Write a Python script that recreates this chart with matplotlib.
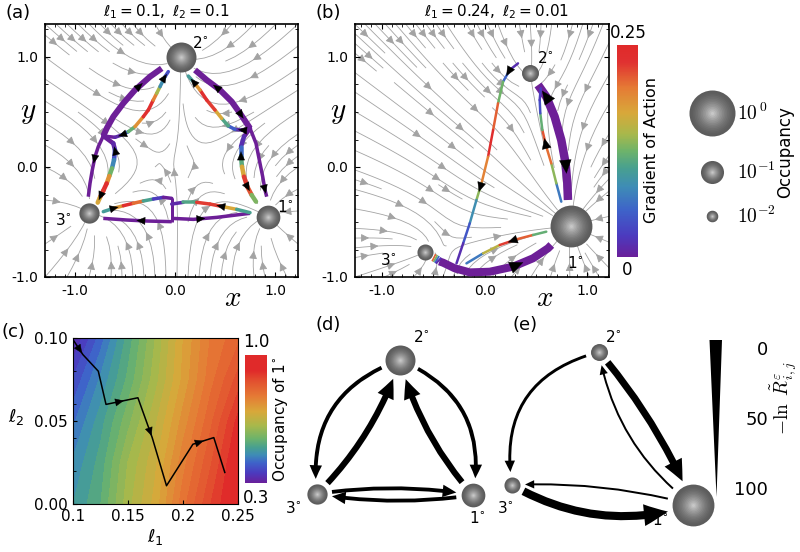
import numpy as np
import matplotlib
matplotlib.use("Agg")
import matplotlib.pyplot as plt
import matplotlib.colorbar as mcolorbar
from matplotlib.collections import LineCollection
from matplotlib.colors import LinearSegmentedColormap, Normalize
from matplotlib.patches import FancyArrowPatch, Polygon
from matplotlib.ticker import MultipleLocator

plt.rcParams["font.family"] = "DejaVu Sans"
plt.rcParams["mathtext.fontset"] = "dejavusans"
plt.rcParams["axes.unicode_minus"] = False

# ---------------- data ----------------
# node order: 1°, 2°, 3°
a_node_x = [0.93, 0.06, -0.86]
a_node_y = [-0.45, 1.0, -0.42]
a_occ = [0.11, 0.24, 0.065]
a_pull = [1.0, 1.0, 1.0]

b_node_x = [0.84, 0.44, -0.58]
b_node_y = [-0.54, 0.855, -0.77]
b_occ = [0.73, 0.036, 0.03]
b_pull = [1.0, 0.15, 0.2]

# (a) paths  (x, y, gradient of action)
a_lt_x = [-0.133, -0.25, -0.40, -0.517, -0.617, -0.683, -0.717]
a_lt_y = [0.897, 0.821, 0.70, 0.579, 0.458, 0.351, 0.282]
a_lo_x = [-0.717, -0.767, -0.80, -0.827, -0.85, -0.867]
a_lo_y = [0.282, 0.185, 0.094, -0.027, -0.149, -0.27]
a_lu_x = [-0.717, -0.60, -0.533, -0.467, -0.40, -0.317, -0.267, -0.217, -0.183, -0.15, -0.10, -0.067]
a_lu_y = [0.282, 0.27, 0.291, 0.321, 0.367, 0.457, 0.518, 0.609, 0.67, 0.73, 0.821, 0.867]
a_lu_g = [0, 0, 0.02, 0.09, 0.15, 0.22, 0.25, 0.22, 0.17, 0.12, 0.05, 0.03]
a_ld_x = [-0.717, -0.617, -0.60, -0.61, -0.63, -0.657, -0.683, -0.717, -0.75, -0.773]
a_ld_y = [0.282, 0.215, 0.155, 0.064, -0.012, -0.082, -0.149, -0.215, -0.276, -0.324]
a_ld_g = [0, 0, 0.02, 0.06, 0.10, 0.15, 0.22, 0.25, 0.20, 0.14]
a_rt_x = [0.20, 0.317, 0.45, 0.567, 0.65, 0.717, 0.75]
a_rt_y = [0.882, 0.791, 0.70, 0.594, 0.488, 0.397, 0.352]
a_ro_x = [0.75, 0.81, 0.843, 0.877, 0.90, 0.917]
a_ro_y = [0.352, 0.215, 0.064, -0.088, -0.209, -0.27]
a_ru_x = [0.75, 0.667, 0.60, 0.533, 0.467, 0.40, 0.317, 0.25, 0.183, 0.133]
a_ru_y = [0.352, 0.336, 0.342, 0.373, 0.442, 0.518, 0.609, 0.70, 0.776, 0.827]
a_ru_g = [0, 0, 0.02, 0.08, 0.14, 0.20, 0.25, 0.22, 0.14, 0.06]
a_rd_x = [0.75, 0.69, 0.66, 0.66, 0.67, 0.69, 0.723, 0.767, 0.81]
a_rd_y = [0.352, 0.276, 0.185, 0.094, 0.003, -0.088, -0.179, -0.255, -0.315]
a_rd_g = [0, 0, 0.03, 0.09, 0.14, 0.20, 0.25, 0.18, 0.08]
a_bl_x = [-0.717, -0.483, -0.283, -0.033]
a_bl_y = [-0.467, -0.482, -0.491, -0.497]
a_bv_x = [-0.033, -0.033]
a_bv_y = [-0.497, -0.285]
a_br_x = [-0.033, 0.183, 0.417, 0.75]
a_br_y = [-0.467, -0.476, -0.458, -0.421]
a_bul_x = [-0.717, -0.617, -0.517, -0.417, -0.317, -0.217, -0.117, -0.033]
a_bul_y = [-0.406, -0.376, -0.352, -0.33, -0.309, -0.291, -0.276, -0.285]
a_bul_g = [0.06, 0.14, 0.22, 0.25, 0.16, 0.05, 0.0, 0.0]
a_bur_x = [-0.033, 0.083, 0.217, 0.35, 0.483, 0.617, 0.75]
a_bur_y = [-0.337, -0.321, -0.321, -0.337, -0.361, -0.385, -0.415]
a_bur_g = [0, 0.02, 0.20, 0.25, 0.20, 0.14, 0.07]

# (b) paths
b_bt_x = [-0.44, -0.403, -0.29, -0.144, 0.05, 0.277, 0.471, 0.617, 0.649]
b_bt_y = [-0.858, -0.87, -0.921, -0.958, -0.952, -0.906, -0.83, -0.739, -0.709]
b_tip_x = [-0.50, -0.485, -0.47, -0.455, -0.44]
b_tip_y = [-0.821, -0.828, -0.836, -0.845, -0.858]
b_tip_g = [0.25, 0.17, 0.09, 0.03, 0]
b_rt_x = [0.811, 0.805, 0.788, 0.746, 0.681, 0.60, 0.52]
b_rt_y = [-0.30, -0.149, 0.033, 0.245, 0.458, 0.639, 0.746]
b_rr_x = [0.746, 0.698, 0.649, 0.60, 0.562, 0.542, 0.536, 0.546]
b_rr_y = [-0.315, -0.149, 0.033, 0.185, 0.336, 0.488, 0.609, 0.715]
b_rr_g = [0.04, 0.10, 0.17, 0.24, 0.19, 0.05, 0.03, 0.02]
b_lg_x = [0.325, 0.245, 0.18, 0.131, 0.083, 0.034, -0.03, -0.079, -0.144, -0.208, -0.273]
b_lg_y = [0.942, 0.882, 0.776, 0.579, 0.336, 0.094, -0.149, -0.30, -0.512, -0.694, -0.876]
b_lg_g = [0, 0.03, 0.08, 0.17, 0.25, 0.23, 0.16, 0.11, 0.06, 0.03, 0]
b_lw_x = [-0.176, -0.014, 0.148, 0.309, 0.471, 0.60]
b_lw_y = [-0.876, -0.785, -0.709, -0.658, -0.618, -0.588]
b_lw_g = [0.03, 0.11, 0.20, 0.25, 0.17, 0.07]

# (c) occupancy of 1° on the (l1, l2) grid
occ_l1 = [0.1, 0.125, 0.15, 0.175, 0.2, 0.225, 0.25]
occ_l2 = [0.0, 0.025, 0.05, 0.075, 0.1]
occ_grid = [
    [0.475, 0.524, 0.615, 0.685, 0.790, 0.874, 0.944],
    [0.454, 0.510, 0.601, 0.670, 0.765, 0.846, 0.935],
    [0.419, 0.489, 0.566, 0.645, 0.735, 0.818, 0.909],
    [0.377, 0.454, 0.531, 0.615, 0.706, 0.790, 0.860],
    [0.321, 0.412, 0.510, 0.601, 0.699, 0.776, 0.818],
]
c_l1 = [0.100, 0.109, 0.123, 0.130, 0.159, 0.172, 0.185, 0.209, 0.228, 0.238]
c_l2 = [0.099, 0.090, 0.080, 0.060, 0.064, 0.040, 0.011, 0.036, 0.040, 0.019]

# (d), (e) rates: -ln R between states (1-based state numbers)
d_from = [2, 3, 2, 1, 3, 1]
d_to = [3, 2, 1, 2, 1, 3]
d_cost = [72, 52, 72, 52, 72, 72]
e_from = [2, 2, 1, 3, 1]
e_to = [3, 1, 2, 1, 3]
e_cost = [80, 45, 88, 35, 88]
wedge_ticks = [0, 50, 100]
legend_occ = [1.0, 0.1, 0.01]

# ---------------- figure ----------------
W, H = 800, 552
fig = plt.figure(figsize=(8, 5.52), dpi=100)


def px_axes(l, t, r, b):
    return fig.add_axes([l / W, 1 - b / H, (r - l) / W, (b - t) / H])


cmap = LinearSegmentedColormap.from_list("act", [
    (0.0, "#6a1f9a"), (0.10, "#4b3bbf"), (0.22, "#3e63c9"), (0.33, "#3e8cb6"),
    (0.42, "#48a08f"), (0.50, "#6eb36a"), (0.58, "#a8b84b"), (0.68, "#d8a83a"),
    (0.80, "#e57a35"), (0.92, "#e03131"), (1.0, "#e02a2a")])
cmap_c = LinearSegmentedColormap.from_list("occ", [
    (0.0, "#6a1f9a"), (0.08, "#4b3bbf"), (0.16, "#3e63c9"), (0.22, "#3e8cb6"),
    (0.28, "#48a08f"), (0.35, "#6eb36a"), (0.45, "#a8b84b"), (0.56, "#d8a83a"),
    (0.68, "#e57a35"), (0.80, "#e2502f"), (0.88, "#e02a2a"), (1.0, "#e02a2a")])
act_norm = Normalize(0, 0.25)
purple = "#6d1f97"


def radius(occ):
    return 23 * occ ** 0.3


def sphere(ax, x, y, r, z=6):
    n = 14
    for k in range(n):
        f = 1 - k / n
        g = 0.36 + 0.42 * (k / (n - 1)) ** 1.5
        ax.scatter([x], [y], s=(2 * r * f * 0.72) ** 2, color=(g, g, g),
                   lw=0, zorder=z + 0.01 * k, clip_on=False)


def flow(ax, nx, ny, pull, xlim, ylim, dens):
    gx = np.linspace(xlim[0], xlim[1], 80)
    gy = np.linspace(ylim[0], ylim[1], 80)
    X, Y = np.meshgrid(gx, gy)
    U = np.zeros_like(X)
    V = np.zeros_like(X)
    for cx, cy, w in zip(nx, ny, pull):
        dx, dy = cx - X, cy - Y
        d2 = dx ** 2 + dy ** 2 + 0.01
        U += w * dx / d2
        V += w * dy / d2
    ax.streamplot(X, Y, U, V, density=dens, color="#a3a3a3", linewidth=0.6,
                  arrowsize=1.2, zorder=1)


def path(ax, xs, ys, gs, lw_px, cap="round"):
    if gs is None:
        ax.plot(xs, ys, color=purple, lw=lw_px * 0.72, solid_capstyle="butt",
                solid_joinstyle="round", zorder=3)
        return
    pts = np.column_stack([xs, ys])
    segs = np.stack([pts[:-1], pts[1:]], axis=1)
    gs = np.asarray(gs, float)
    lc = LineCollection(segs, cmap=cmap, norm=act_norm, linewidths=lw_px * 0.72,
                        capstyle=cap, zorder=3)
    lc.set_array((gs[:-1] + gs[1:]) / 2)
    ax.add_collection(lc)


def head(ax, xs, ys, i, d, size, t=0.5):
    p0 = np.array([xs[i], ys[i]], float)
    p1 = np.array([xs[i + 1], ys[i + 1]], float)
    m = p0 + t * (p1 - p0)
    step = (p1 - p0) * 0.01 * d
    ax.add_patch(FancyArrowPatch(tuple(m), tuple(m + step),
                                 arrowstyle="-|>,head_length=1,head_width=0.45",
                                 mutation_scale=size * 0.72, color="k", lw=0.3,
                                 shrinkA=0, shrinkB=0, zorder=5))


def field_axes(ax, xlim, ylim):
    ax.set_xlim(xlim)
    ax.set_ylim(ylim)
    ax.set_xticks([-1, 0, 1])
    ax.set_xticklabels(["-1.0", "0.0", "1.0"])
    ax.set_yticks([-1, 0, 1])
    ax.set_yticklabels(["-1.0", "0.0", "1.0"])
    ax.xaxis.set_minor_locator(MultipleLocator(0.1))
    ax.yaxis.set_minor_locator(MultipleLocator(0.25))
    ax.tick_params(which="both", direction="in", top=True, right=True, labelsize=10)
    ax.tick_params(which="major", length=3.5, width=0.8, pad=5)
    ax.tick_params(which="minor", length=2, width=0.6)
    for s in ax.spines.values():
        s.set_linewidth(1.2)


# ---- panel (a)
ax_a = px_axes(45, 24, 298, 277)
xlim_a, ylim_ab = (-1.3, 1.23), (-1.0, 1.3)
flow(ax_a, a_node_x, a_node_y, a_pull, xlim_a, ylim_ab, 0.8)
field_axes(ax_a, xlim_a, ylim_ab)
for xs, ys, gs, lw in [(a_lt_x, a_lt_y, None, 6), (a_lo_x, a_lo_y, None, 3.5),
                       (a_rt_x, a_rt_y, None, 6), (a_ro_x, a_ro_y, None, 3.5),
                       (a_bl_x, a_bl_y, None, 3.5), (a_bv_x, a_bv_y, None, 3),
                       (a_br_x, a_br_y, None, 3.5),
                       (a_lu_x, a_lu_y, a_lu_g, 3.5), (a_ld_x, a_ld_y, a_ld_g, 4.5),
                       (a_ru_x, a_ru_y, a_ru_g, 3.5), (a_rd_x, a_rd_y, a_rd_g, 4.5),
                       (a_bul_x, a_bul_y, a_bul_g, 3.5), (a_bur_x, a_bur_y, a_bur_g, 3.5)]:
    path(ax_a, xs, ys, gs, lw)
for xs, ys, i, d in [(a_lt_x, a_lt_y, 1, -1), (a_lo_x, a_lo_y, 2, 1),
                     (a_lu_x, a_lu_y, 1, -1), (a_lu_x, a_lu_y, 10, 1),
                     (a_ld_x, a_ld_y, 1, -1), (a_ld_x, a_ld_y, 8, 1),
                     (a_rt_x, a_rt_y, 1, -1), (a_rt_x, a_rt_y, 4, 1),
                     (a_ro_x, a_ro_y, 4, 1), (a_ru_x, a_ru_y, 1, 1),
                     (a_ru_x, a_ru_y, 8, 1), (a_rd_x, a_rd_y, 2, -1),
                     (a_rd_x, a_rd_y, 6, 1), (a_bl_x, a_bl_y, 1, -1),
                     (a_br_x, a_br_y, 1, 1), (a_bul_x, a_bul_y, 1, 1),
                     (a_bur_x, a_bur_y, 3, -1)]:
    head(ax_a, xs, ys, i, d, 8)
for x, y, o in zip(a_node_x, a_node_y, a_occ):
    sphere(ax_a, x, y, radius(o))

# ---- panel (b)
ax_b = px_axes(355, 24, 609, 277)
xlim_b = (-1.26, 1.21)
flow(ax_b, b_node_x, b_node_y, b_pull, xlim_b, ylim_ab, 0.9)
field_axes(ax_b, xlim_b, ylim_ab)
path(ax_b, b_bt_x, b_bt_y, None, 8)
path(ax_b, b_tip_x, b_tip_y, b_tip_g, 8, cap="butt")
path(ax_b, b_rt_x, b_rt_y, None, 8.5)
path(ax_b, b_rr_x, b_rr_y, b_rr_g, 2.5)
path(ax_b, b_lg_x, b_lg_y, b_lg_g, 2.5)
path(ax_b, b_lw_x, b_lw_y, b_lw_g, 2.5)
for xs, ys, i, d, sz in [(b_bt_x, b_bt_y, 5, 1, 13), (b_rt_x, b_rt_y, 1, -1, 13),
                         (b_rt_x, b_rt_y, 5, 1, 13), (b_rr_x, b_rr_y, 3, 1, 10),
                         (b_lg_x, b_lg_y, 1, 1, 9), (b_lg_x, b_lg_y, 6, 1, 9),
                         (b_lw_x, b_lw_y, 2, -1, 9)]:
    head(ax_b, xs, ys, i, d, sz)
for x, y, o in zip(b_node_x, b_node_y, b_occ):
    sphere(ax_b, x, y, radius(o))

# colorbar for gradient of action
cax_ab = px_axes(617, 45, 638, 257)
cb = mcolorbar.ColorbarBase(cax_ab, cmap=cmap, norm=act_norm)
cb.set_ticks([])
cb.outline.set_visible(False)

# ---- panel (c)
ax_c = px_axes(73, 338, 238, 504)
ax_c.contourf(occ_l1, occ_l2, occ_grid, levels=np.linspace(0.3, 1.0, 29),
              cmap=cmap_c, vmin=0.3, vmax=1.0)
ax_c.plot(c_l1, c_l2, color="k", lw=1.1)
for i, t in [(0, 0.9), (3, 0.55), (4, 0.95), (7, 0.5)]:
    head(ax_c, c_l1, c_l2, i, 1, 8, t)
ax_c.set_xlim(0.1, 0.25)
ax_c.set_ylim(0, 0.1)
ax_c.set_xticks([0.1, 0.15, 0.2, 0.25])
ax_c.set_xticklabels(["0.1", "0.15", "0.2", "0.25"])
ax_c.set_yticks([0, 0.05, 0.1])
ax_c.set_yticklabels(["0.00", "0.05", "0.10"])
ax_c.yaxis.set_minor_locator(MultipleLocator(0.02))
ax_c.tick_params(which="both", direction="in", labelsize=11)
ax_c.tick_params(which="major", length=3)
ax_c.tick_params(which="minor", length=2)
cax_c = px_axes(245, 355, 267, 483)
cb_c = mcolorbar.ColorbarBase(cax_c, cmap=cmap_c, norm=Normalize(0.3, 1.0))
cb_c.set_ticks([])
cb_c.outline.set_visible(False)

# ---- overlay in pixel coordinates: (d), (e), legends, labels
ov = fig.add_axes([0, 0, 1, 1])
ov.set_xlim(0, W)
ov.set_ylim(H, 0)
ov.axis("off")

d_pos = {1: (473, 495), 2: (400, 360), 3: (317, 494)}
d_rad = [0.4, 0.12, -0.4, -0.12, -0.08, -0.08]
e_pos = {1: (693, 505), 2: (599, 352), 3: (512, 485)}
e_rad = [0.45, -0.08, -0.2, 0.22, 0.08]
occ_d = {1: a_occ[0], 2: a_occ[1], 3: a_occ[2]}
occ_e = {1: b_occ[0], 2: b_occ[1], 3: b_occ[2]}

wedge_top, wedge_tip = 340, 497


def cost_y(v):
    return 350 + 1.4 * v


def cost_width(v):
    return 13 * (wedge_tip - cost_y(v)) / (wedge_tip - wedge_top)


def network(src, dst, cost, rads, pos, occ):
    for i, j, v, rad in zip(src, dst, cost, rads):
        w = cost_width(v)
        hw = 2.2 * w + 4
        hl = 1.1 * hw
        st = "simple,tail_width=%.2f,head_width=%.2f,head_length=%.2f" % (
            w * 0.72, hw * 0.72, hl * 0.72)
        ov.add_patch(FancyArrowPatch(pos[i], pos[j], arrowstyle=st, mutation_scale=1,
                                     connectionstyle="arc3,rad=%.2f" % rad,
                                     shrinkA=(radius(occ[i]) + 5) * 0.72,
                                     shrinkB=(radius(occ[j]) + 5) * 0.72,
                                     color="k", lw=0, zorder=3))
    for k in pos:
        sphere(ov, pos[k][0], pos[k][1], radius(occ[k]))


network(d_from, d_to, d_cost, d_rad, d_pos, occ_d)
network(e_from, e_to, e_cost, e_rad, e_pos, occ_e)

# wedge scale for -ln R
ov.add_patch(Polygon([(709.5, wedge_top), (722, wedge_top), (716.5, wedge_tip)],
                     closed=True, color="k", lw=0))
for v in wedge_ticks:
    ov.text(768, cost_y(v), str(v), fontsize=13, ha="right", va="center")
ov.text(784, 398, r"$-\ln\ \tilde{R}^{\varepsilon}_{i,j}$", math_fontfamily="cm",
        fontsize=14, rotation=90, ha="center", va="center")

# occupancy legend
for yy, o, lab in zip([113, 172, 216], legend_occ, [r"$10^{\,0}$", r"$10^{-1}$", r"$10^{-2}$"]):
    sphere(ov, 712, yy, radius(o))
    ov.text(737, yy, lab, math_fontfamily="cm", fontsize=14, ha="left", va="center")
ov.text(785, 152, "Occupancy", fontsize=12, rotation=90, ha="center", va="center")

# colorbar texts
ov.text(628, 33, "0.25", fontsize=12, ha="center", va="center")
ov.text(627, 270, "0", fontsize=12, ha="center", va="center")
ov.text(652, 150, "Gradient of Action", fontsize=11.5, rotation=90, ha="center", va="center")
ov.text(256, 342, "1.0", fontsize=12, ha="center", va="center")
ov.text(256, 498, "0.3", fontsize=12, ha="center", va="center")
ov.text(281, 419, r"Occupancy of 1$^{\circ}$", fontsize=11, rotation=90, ha="center", va="center")

# panel labels and titles
for x, y, s in [(18, 13, "(a)"), (328, 13, "(b)"), (13, 332, "(c)"),
                (328, 325, "(d)"), (525, 325, "(e)")]:
    ov.text(x, y, s, fontsize=13, ha="center", va="center")
ov.text(166, 12, r"$\ell_1 = 0.1,\ \ell_2 = 0.1$", fontsize=11, ha="center", va="center")
ov.text(497, 12, r"$\ell_1 = 0.24,\ \ell_2 = 0.01$", fontsize=11, ha="center", va="center")

# axis labels
for x, y, s in [(233, 298, "$x$"), (545, 298, "$x$"), (28, 112, "$y$"), (338, 112, "$y$")]:
    ov.text(x, y, s, math_fontfamily="cm", fontsize=21, ha="center", va="center")
ov.text(16, 417, r"$\ell_2$", fontsize=13, ha="center", va="center")
ov.text(155, 537, r"$\ell_1$", fontsize=13, ha="center", va="center")

# state labels
for x, y, s in [(200, 43, "2"), (63, 220, "3"), (285, 207, "1"),
                (545, 58, "2"), (388, 260, "3"), (575, 263, "1"),
                (421, 337, "2"), (293, 508, "3"), (477, 518, "1"),
                (613, 337, "2"), (505, 508, "3"), (660, 520, "1")]:
    ov.text(x, y, s + r"$^{\circ}$", fontsize=11, ha="center", va="center")

fig.savefig("out.png", dpi=100)
